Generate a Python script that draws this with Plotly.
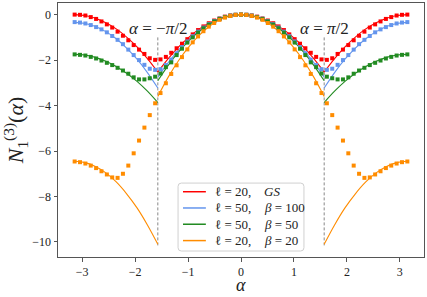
import numpy as np
import plotly.graph_objects as go

# ---------------- data ----------------
n_pts = 63
alpha_pts = np.linspace(-np.pi, np.pi, n_pts)

red_pts = [0.0, -0.01, -0.04, -0.11, -0.19, -0.30, -0.43, -0.57, -0.75, -0.93, -1.13, -1.34, -1.54, -1.73, -1.92, -1.99,
           -1.97, -1.86, -1.68, -1.48, -1.28, -1.08, -0.87, -0.68, -0.52, -0.38, -0.26, -0.17, -0.09, -0.04, -0.01, 0.0,
           -0.01, -0.04, -0.09, -0.17, -0.26, -0.38, -0.52, -0.68, -0.87, -1.08, -1.28, -1.48, -1.68, -1.86, -1.97,
           -1.99, -1.92, -1.73, -1.54, -1.34, -1.13, -0.93, -0.75, -0.57, -0.43, -0.30, -0.19, -0.11, -0.04, -0.01, 0.0]
blue_pts = [-0.33, -0.35, -0.39, -0.46, -0.55, -0.65, -0.78, -0.94, -1.11, -1.30, -1.54, -1.78, -2.00, -2.21, -2.38, -2.43,
            -2.40, -2.22, -1.98, -1.70, -1.43, -1.18, -0.95, -0.75, -0.57, -0.42, -0.29, -0.18, -0.10, -0.05, -0.01, 0.0,
            -0.01, -0.05, -0.10, -0.18, -0.29, -0.42, -0.57, -0.75, -0.95, -1.18, -1.43, -1.70, -1.98, -2.22, -2.40,
            -2.43, -2.38, -2.21, -2.00, -1.78, -1.54, -1.30, -1.11, -0.94, -0.78, -0.65, -0.55, -0.46, -0.39, -0.35, -0.33]
green_pts = [-1.75, -1.77, -1.80, -1.86, -1.93, -2.02, -2.12, -2.22, -2.34, -2.46, -2.60, -2.76, -2.85, -2.85, -2.80, -2.73,
             -2.59, -2.31, -2.10, -1.78, -1.50, -1.23, -1.00, -0.79, -0.60, -0.44, -0.30, -0.19, -0.11, -0.05, -0.01, 0.0,
             -0.01, -0.05, -0.11, -0.19, -0.30, -0.44, -0.60, -0.79, -1.00, -1.23, -1.50, -1.78, -2.10, -2.31, -2.59,
             -2.73, -2.80, -2.85, -2.85, -2.76, -2.60, -2.46, -2.34, -2.22, -2.12, -2.02, -1.93, -1.86, -1.80, -1.77, -1.75]
orange_pts = [-6.46, -6.49, -6.55, -6.64, -6.75, -6.89, -7.03, -7.16, -7.18, -7.00, -6.64, -6.10, -5.54, -4.97, -4.42, -3.90,
              -3.45, -3.02, -2.61, -2.23, -1.87, -1.53, -1.22, -0.96, -0.73, -0.53, -0.37, -0.23, -0.13, -0.06, -0.015, 0.0,
              -0.015, -0.06, -0.13, -0.23, -0.37, -0.53, -0.73, -0.96, -1.22, -1.53, -1.87, -2.23, -2.61, -3.02, -3.45,
              -3.90, -4.42, -4.97, -5.54, -6.10, -6.64, -7.00, -7.18, -7.16, -7.03, -6.89, -6.75, -6.64, -6.55, -6.49, -6.46]

# theory curves: outer-left (-pi..-pi/2), middle (-pi/2..pi/2), outer-right (pi/2..pi)
x_left = np.linspace(-np.pi, -np.pi / 2, 9)
x_mid = np.linspace(-np.pi / 2, np.pi / 2, 17)
x_right = np.linspace(np.pi / 2, np.pi, 9)

red_left = [0.0, -0.04, -0.16, -0.36, -0.63, -0.99, -1.42, -1.94, -2.53]
red_mid = [-2.53, -1.94, -1.42, -0.99, -0.63, -0.36, -0.16, -0.04, 0.0, -0.04, -0.16, -0.36, -0.63, -0.99, -1.42, -1.94, -2.53]
red_right = [-2.53, -1.94, -1.42, -0.99, -0.63, -0.36, -0.16, -0.04, 0.0]

blue_left = [-0.34, -0.39, -0.52, -0.75, -1.06, -1.47, -1.96, -2.55, -3.23]
blue_mid = [-2.75, -2.11, -1.55, -1.07, -0.69, -0.39, -0.17, -0.04, 0.0, -0.04, -0.17, -0.39, -0.69, -1.07, -1.55, -2.11, -2.75]
blue_right = [-3.23, -2.55, -1.96, -1.47, -1.06, -0.75, -0.52, -0.39, -0.34]

green_left = [-1.75, -1.78, -1.88, -2.05, -2.28, -2.58, -2.94, -3.37, -3.87]
green_mid = [-2.91, -2.23, -1.64, -1.14, -0.73, -0.41, -0.18, -0.05, 0.0, -0.05, -0.18, -0.41, -0.73, -1.14, -1.64, -2.23, -2.91]
green_right = [-3.87, -3.37, -2.94, -2.58, -2.28, -2.05, -1.88, -1.78, -1.75]

orange_left = [-6.45, -6.51, -6.68, -6.96, -7.36, -7.88, -8.50, -9.25, -10.10]
orange_mid = [-3.60, -2.75, -2.02, -1.41, -0.90, -0.50, -0.22, -0.06, 0.0, -0.06, -0.22, -0.50, -0.90, -1.41, -2.02, -2.75, -3.60]
orange_right = [-10.10, -9.25, -8.50, -7.88, -7.36, -6.96, -6.68, -6.51, -6.45]

label_ell = ["\u2113 = 20,", "\u2113 = 50,", "\u2113 = 50,", "\u2113 = 20,"]
label_par = ["<i>GS</i>", "<i>\u03b2</i> = 100", "<i>\u03b2</i> = 50", "<i>\u03b2</i> = 20"]
colors = ["#ff0000", "#6495ed", "#228b22", "#ff8c00"]

x_ticks = [-3, -2, -1, 0, 1, 2, 3]
y_ticks = [0, -2, -4, -6, -8, -10]

# ---------------- figure ----------------
FONT = "Liberation Serif, DejaVu Serif, serif"
fig = go.Figure()

series = [
    (red_pts, red_left, red_mid, red_right),
    (blue_pts, blue_left, blue_mid, blue_right),
    (green_pts, green_left, green_mid, green_right),
    (orange_pts, orange_left, orange_mid, orange_right),
]

for (pts, yl, ym, yr), lab, par, col in zip(series, label_ell, label_par, colors):
    xs = list(x_left) + [None] + list(x_mid) + [None] + list(x_right)
    ys = list(yl) + [None] + list(ym) + [None] + list(yr)
    fig.add_trace(go.Scatter(x=xs, y=ys, mode="lines", name=lab + " " + par, showlegend=False,
                             line=dict(color=col, width=1.1, shape="spline"),
                             connectgaps=False, hoverinfo="skip"))
for (pts, yl, ym, yr), col in zip(series, colors):
    fig.add_trace(go.Scatter(x=alpha_pts, y=pts, mode="markers", showlegend=False,
                             marker=dict(symbol="square", size=4, color=col, line=dict(width=0))))

for xv in (-np.pi / 2, np.pi / 2):
    fig.add_shape(type="line", x0=xv, x1=xv, y0=-10.15, y1=-0.95, xref="x", yref="y",
                  line=dict(color="#888888", width=1, dash="3px,2px"), layer="below")

fig.add_annotation(x=-np.pi / 2, y=-0.62, xref="x", yref="y", text="<i>\u03b1</i> = \u2212<i>\u03c0</i>/2",
                   showarrow=False, font=dict(family=FONT, size=17, color="#222"))
fig.add_annotation(x=np.pi / 2, y=-0.62, xref="x", yref="y", text="<i>\u03b1</i> = <i>\u03c0</i>/2",
                   showarrow=False, font=dict(family=FONT, size=17, color="#222"))

# x-axis title placed under the tick labels
fig.add_annotation(x=0, y=-0.063, xref="x", yref="paper", text="<i>\u03b1</i>",
                   showarrow=False, yanchor="top", font=dict(family=FONT, size=18, color="#222"))

# legend box (matplotlib style), in plot-area paper coordinates
bx0, bx1, by0, by1 = 0.328, 0.672, 0.0236, 0.291
rx, ry = 0.009, 0.013
path = (f"M {bx0+rx},{by0} L {bx1-rx},{by0} Q {bx1},{by0} {bx1},{by0+ry} "
        f"L {bx1},{by1-ry} Q {bx1},{by1} {bx1-rx},{by1} L {bx0+rx},{by1} "
        f"Q {bx0},{by1} {bx0},{by1-ry} L {bx0},{by0+ry} Q {bx0},{by0} {bx0+rx},{by0} Z")
fig.add_shape(type="path", path=path, xref="paper", yref="paper",
              fillcolor="rgba(255,255,255,0.8)", line=dict(color="#d0d0d0", width=1))
row_y = [0.257, 0.193, 0.129, 0.0646]
for ry_, lab, par, col in zip(row_y, label_ell, label_par, colors):
    fig.add_shape(type="line", xref="paper", yref="paper", x0=0.3415, x1=0.404, y0=ry_, y1=ry_,
                  line=dict(color=col, width=1.5))
    fig.add_annotation(x=0.4235, y=ry_, xref="paper", yref="paper", text=lab, showarrow=False,
                       xanchor="left", yanchor="middle", font=dict(family=FONT, size=13, color="#222"))
    fig.add_annotation(x=0.557, y=ry_, xref="paper", yref="paper", text=par, showarrow=False,
                       xanchor="left", yanchor="middle", font=dict(family=FONT, size=13, color="#222"))

fig.update_layout(
    width=427, height=297,
    margin=dict(l=58, r=3, t=3, b=40, autoexpand=False),
    paper_bgcolor="white", plot_bgcolor="white",
    font=dict(family=FONT, size=12, color="#222"),
    showlegend=False,
    xaxis=dict(range=[-3.456, 3.456], tickvals=x_ticks, showgrid=False, zeroline=False,
               showline=True, mirror=True, linecolor="#555", linewidth=1,
               ticks="outside", ticklen=3.5, tickcolor="#555", automargin=False,
               tickfont=dict(family=FONT, size=12)),
    yaxis=dict(range=[-10.66, 0.51], tickvals=y_ticks, showgrid=False, zeroline=False,
               showline=True, mirror=True, linecolor="#555", linewidth=1,
               ticks="outside", ticklen=3.5, tickcolor="#555", automargin=False,
               tickfont=dict(family=FONT, size=12),
               title=dict(text="<i>N</i><sub>1</sub><sup>(3)</sup>(<i>\u03b1</i>)",
                          font=dict(family=FONT, size=22), standoff=6)),
)

fig.write_html("out.html", config={"responsive": False, "displayModeBar": False},
               post_script="document.body.style.margin='0';document.body.style.overflow='hidden';")
